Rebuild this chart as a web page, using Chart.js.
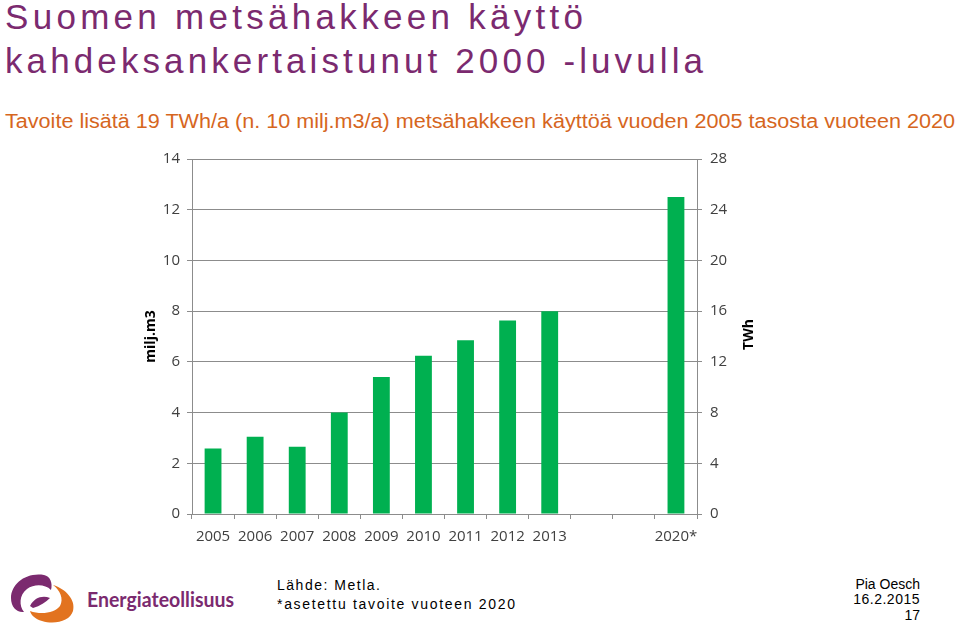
<!DOCTYPE html>
<html>
<head>
<meta charset="utf-8">
<script src="https://cdn.jsdelivr.net/npm/chart.js@4"></script>
<style>
  html, body { margin: 0; padding: 0; background: #ffffff; }
  body { width: 960px; height: 627px; position: relative; overflow: hidden; }
  #wrap { position: absolute; left: 130px; top: 142px; width: 640px; height: 413px; }
  svg.overlay { position: absolute; left: 0; top: 0; }
</style>
</head>
<body>
<svg class="overlay" width="960" height="627" xmlns="http://www.w3.org/2000/svg">
  <text x="5" y="29" font-family="Liberation Sans, Arial, sans-serif" font-size="35" fill="#7b2a6f" textLength="578" lengthAdjust="spacing">Suomen metsähakkeen käyttö</text>
  <text x="5" y="73" font-family="Liberation Sans, Arial, sans-serif" font-size="35" fill="#7b2a6f" textLength="698" lengthAdjust="spacing">kahdeksankertaistunut 2000 -luvulla</text>
  <text x="5" y="128" font-family="Liberation Sans, Arial, sans-serif" font-size="20" fill="#d6661e" textLength="950" lengthAdjust="spacingAndGlyphs">Tavoite lisätä 19 TWh/a (n. 10 milj.m3/a) metsähakkeen käyttöä vuoden 2005 tasosta vuoteen 2020</text>

  <!-- logo -->
  <path d="M44 575 C26 572 11 584 11 598 C11 607 17 613 24 612 C19 606 19 595 27 589 C34 584 45 584 51 590 C53 583 50 576 44 575 Z" fill="#7b2a6f"/>
  <path d="M53 585 C66 589 76 600 73 611 C70 621 55 625 42 621 C35 619 31 615 30 611 C41 615 55 613 60 606 C64 599 60 590 53 585 Z" fill="#e2731f"/>
  <path d="M30 606 C34 598 42 595 50 598 C46 602 40 606 33 608 Z" fill="#7b2a6f"/>
  <text x="87" y="607" font-family="Lato, Open Sans, sans-serif" font-weight="bold" font-size="20" fill="#7b2a6f" textLength="147" lengthAdjust="spacingAndGlyphs">Energiateollisuus</text>

  <text x="277" y="590" font-family="Liberation Sans, Arial, sans-serif" font-size="14" fill="#000" textLength="103" lengthAdjust="spacing">Lähde: Metla.</text>
  <text x="277" y="609" font-family="Liberation Sans, Arial, sans-serif" font-size="14" fill="#000" textLength="238" lengthAdjust="spacing">*asetettu tavoite vuoteen 2020</text>

  <text x="920" y="589" text-anchor="end" font-family="Liberation Sans, Arial, sans-serif" font-size="14" fill="#000">Pia Oesch</text>
  <text x="920" y="604" text-anchor="end" font-family="Liberation Sans, Arial, sans-serif" font-size="14" fill="#000" letter-spacing="0.5">16.2.2015</text>
  <text x="920" y="620" text-anchor="end" font-family="Liberation Sans, Arial, sans-serif" font-size="14" fill="#000">17</text>
</svg>
<div id="wrap"><canvas id="c"></canvas></div>
<script>
const categories = ['2005','2006','2007','2008','2009','2010','2011','2012','2013','','','2020*'];
const valuesMilj = [2.58, 3.05, 2.65, 4.0, 5.4, 6.24, 6.85, 7.63, 8.0, null, null, 12.5];
const leftTicks = [0, 2, 4, 6, 8, 10, 12, 14];
const rightTicks = [0, 4, 8, 12, 16, 20, 24, 28];
const leftTitle = 'milj.m3';
const rightTitle = 'TWh';

const gridColor = '#8c8c8c';
const tickFont = { family: 'Open Sans, sans-serif', size: 15 };
const tickColor = '#404040';
const titleFont = 'bold 14px "Open Sans", sans-serif';

// Right axis title reads bottom-to-top like the left one
const rightTitlePlugin = {
  id: 'rightTitle',
  afterDraw(chart) {
    const s = chart.scales.y2;
    const ctx = chart.ctx;
    ctx.save();
    ctx.translate(s.right - 21, (chart.chartArea.top + chart.chartArea.bottom) / 2 - 2);
    ctx.rotate(-Math.PI / 2);
    ctx.font = titleFont;
    ctx.fillStyle = '#000';
    ctx.textAlign = 'center';
    ctx.textBaseline = 'middle';
    ctx.fillText(rightTitle, 0, 0);
    ctx.restore();
  }
};

new Chart(document.getElementById('c'), {
  type: 'bar',
  data: {
    labels: categories,
    datasets: [{
      data: valuesMilj,
      backgroundColor: '#00b050',
      borderWidth: 0,
      categoryPercentage: 1.0,
      barPercentage: 0.4,
      yAxisID: 'y'
    }]
  },
  options: {
    responsive: true,
    maintainAspectRatio: false,
    animation: false,
    layout: { padding: { top: 10, right: 0, left: 0, bottom: 0 } },
    plugins: { legend: { display: false }, tooltip: { enabled: false } },
    scales: {
      x: {
        offset: true,
        grid: { display: true, offset: true, drawOnChartArea: false, drawTicks: true, tickLength: 5, color: gridColor },
        border: { display: true, color: gridColor, width: 1 },
        ticks: { font: tickFont, color: tickColor, maxRotation: 0, autoSkip: false, padding: 9 },
        afterFit: s => { s.height = 41; }
      },
      y: {
        position: 'left',
        min: 0, max: 14,
        afterBuildTicks: s => { s.ticks = leftTicks.map(v => ({ value: v })); },
        grid: { color: gridColor, tickLength: 5, drawTicks: true },
        border: { display: true, color: gridColor },
        ticks: { font: tickFont, color: tickColor, padding: 7 },
        title: { display: true, text: leftTitle, font: { family: 'Open Sans, sans-serif', size: 14, weight: 'bold' }, color: '#000', padding: { top: 13, bottom: 0 } },
        afterFit: s => { s.width = 62; }
      },
      y2: {
        position: 'right',
        min: 0, max: 28,
        afterBuildTicks: s => { s.ticks = rightTicks.map(v => ({ value: v })); },
        grid: { drawOnChartArea: false, color: gridColor, tickLength: 5, drawTicks: true },
        border: { display: true, color: gridColor },
        ticks: { font: tickFont, color: tickColor, padding: 8 },
        afterFit: s => { s.width = 73; }
      }
    }
  },
  plugins: [rightTitlePlugin]
});
</script>
</body>
</html>
